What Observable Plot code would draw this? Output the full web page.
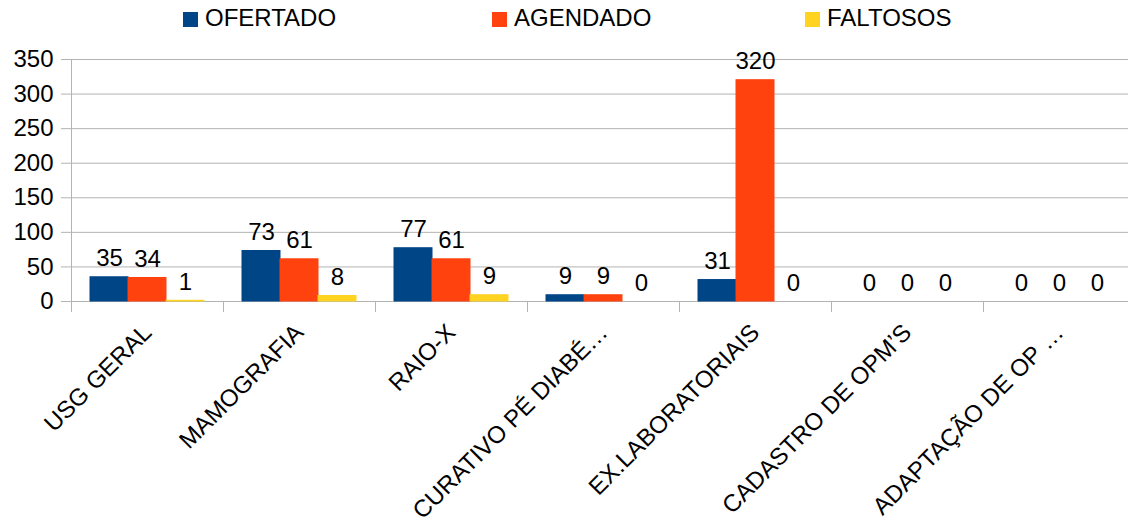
<!DOCTYPE html>
<html>
<head>
<meta charset="utf-8">
<script src="https://cdn.jsdelivr.net/npm/d3@7"></script>
<script src="https://cdn.jsdelivr.net/npm/@observablehq/plot@0.6"></script>
<style>
  html, body { margin: 0; padding: 0; background: #fff; overflow: hidden; }
  body { width: 1128px; height: 526px; font-family: "Liberation Sans", Arial, sans-serif; }
  #legend { position: relative; height: 38px; width: 1128px; }
  .item { position: absolute; top: 0; height: 38px; font-size: 24px; color: #000; }
  .sw { position: absolute; top: 12px; width: 15px; height: 15px; }
  .lbl { position: absolute; top: 4px; white-space: nowrap; }
  #chart { width: 1128px; overflow: hidden; }
  #chart svg { display: block; max-width: none !important; }
</style>
</head>
<body>
<div id="legend"></div>
<div id="chart"></div>
<script>
const categories = ["USG GERAL", "MAMOGRAFIA", "RAIO-X", "CURATIVO PÉ DIABÉ…", "EX.LABORATORIAIS", "CADASTRO DE OPM’S", "ADAPTAÇÃO DE OP …"];
const series = ["OFERTADO", "AGENDADO", "FALTOSOS"];
const ofertado = [35, 73, 77, 9, 31, 0, 0];
const agendado = [34, 61, 61, 9, 320, 0, 0];
const faltosos = [1, 8, 9, 0, 0, 0, 0];
const colors = ["#004586", "#ff420e", "#ffd320"];
const yTicks = [0, 50, 100, 150, 200, 250, 300, 350];

const valuesBySeries = [ofertado, agendado, faltosos];
const rows = [];
categories.forEach((cat, i) => {
  series.forEach((s, j) => rows.push({cat, series: s, value: valuesBySeries[j][i]}));
});

// Legend (HTML, above the SVG)
const legendX = [183, 492, 805];
const legend = document.getElementById("legend");
series.forEach((s, j) => {
  const it = document.createElement("div");
  it.className = "item";
  it.style.left = legendX[j] + "px";
  it.innerHTML = `<div class="sw" style="left:0;background:${colors[j]}"></div><div class="lbl" style="left:22px">${s}</div>`;
  legend.appendChild(it);
});

const FS = 24;
const chart = Plot.plot({
  width: 1140,
  height: 488,
  marginLeft: 68,
  marginRight: 3,
  marginTop: 21,
  marginBottom: 225,
  style: {fontFamily: "Liberation Sans, Arial, sans-serif", fontSize: FS + "px", color: "#000", background: "#fff", maxWidth: "none"},
  fx: {domain: categories, padding: 0, label: null, axis: null},
  x: {domain: series, paddingInner: 0, paddingOuter: 0.5, axis: null},
  y: {domain: [0, 350], axis: null},
  color: {domain: series, range: colors},
  marks: [
    Plot.gridY(yTicks, {stroke: "#b3b3b3", strokeOpacity: 1}),
    Plot.axisY(yTicks, {tickSize: 10, tickPadding: 8, stroke: "#b3b3b3", fill: "#000", fontSize: FS, label: null, tickFormat: d => String(d)}),
    Plot.axisFx({anchor: "bottom", tickRotate: -45, tickSize: 0, tickPadding: 27, fontSize: FS, fill: "#000", label: null}),
    Plot.barY(rows, {fx: "cat", x: "series", y: "value", fill: "series", stroke: "series", strokeWidth: 1}),
    Plot.text(rows, {fx: "cat", x: "series", y: "value", text: d => String(d.value), dy: -11, lineAnchor: "bottom", fontSize: FS, fill: "#000"})
  ]
});

// Category boundary ticks and y axis line, positioned with Plot's own scales
const fxS = chart.scale("fx");
const yS = chart.scale("y");
const y0 = yS.apply(0);
const yTop = yS.apply(350);
const bounds = categories.map(c => fxS.apply(c));
bounds.push(fxS.apply(categories[categories.length - 1]) + fxS.bandwidth);
const g = d3.select(chart).append("g").attr("stroke", "#b3b3b3").attr("stroke-width", 1);
bounds.forEach(bx => {
  g.append("line").attr("x1", bx + 0.5).attr("x2", bx + 0.5).attr("y1", y0).attr("y2", y0 + 11);
});
g.append("line").attr("x1", bounds[0] + 0.5).attr("x2", bounds[0] + 0.5).attr("y1", yTop).attr("y2", y0 + 11);

document.getElementById("chart").appendChild(chart);
</script>
</body>
</html>
